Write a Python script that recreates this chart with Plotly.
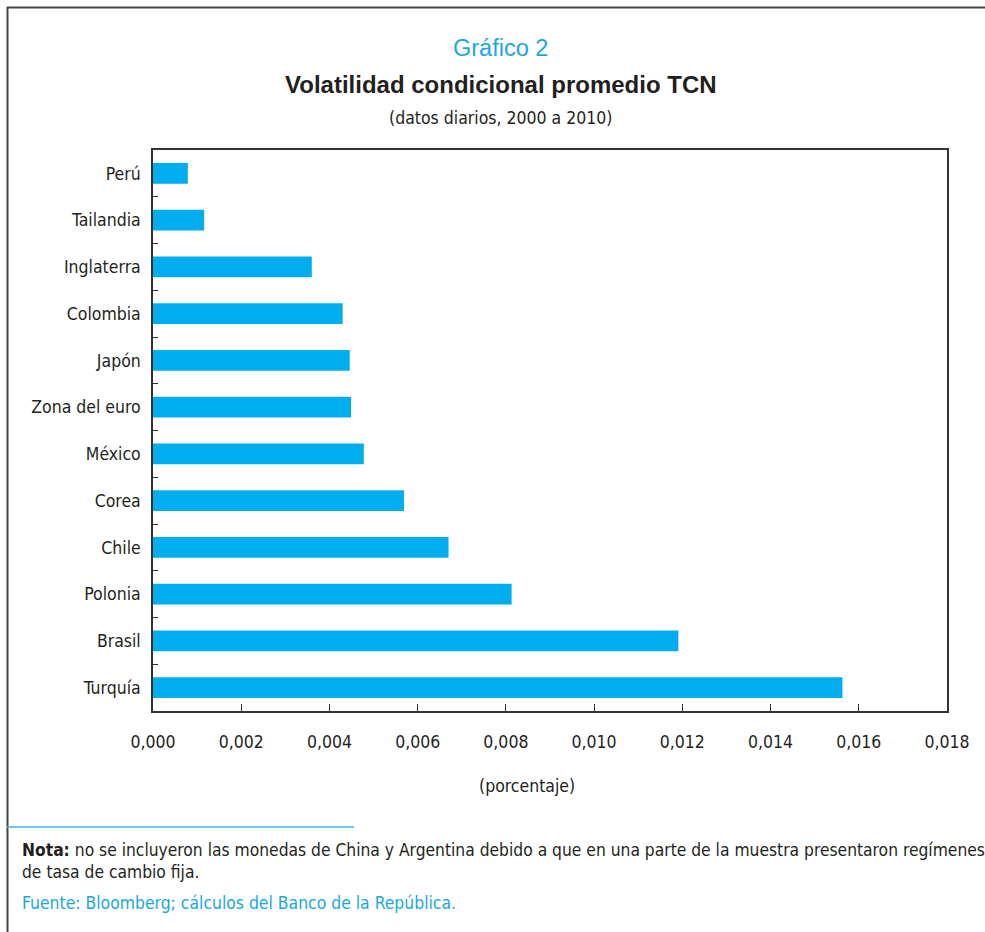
import plotly.graph_objects as go

# ---- data (top to bottom as in the chart) ----
countries = ["Perú", "Tailandia", "Inglaterra", "Colombia", "Japón", "Zona del euro",
             "México", "Corea", "Chile", "Polonia", "Brasil", "Turquía"]
volatility = [0.00079, 0.00116, 0.00360, 0.00430, 0.00446, 0.00449,
              0.00478, 0.00569, 0.00670, 0.00813, 0.01191, 0.01563]
x_ticks = [0.000, 0.002, 0.004, 0.006, 0.008, 0.010, 0.012, 0.014, 0.016, 0.018]

W, H = 985, 932
L, R, T, B = 153, 947, 150, 711  # plot area in pixels

def px(x):
    return (x - L) / (R - L)

def py(y):
    return (B - y) / (B - T)

COND = "Liberation Sans Narrow, DejaVu Sans Condensed, Arial Narrow, sans-serif"
REG = "Liberation Sans, Arial, Helvetica, sans-serif"
TXT = "#231f20"
BLUE = "#00aeef"
BLUE_TXT = "#1aa7e0"

fig = go.Figure(go.Bar(
    x=volatility, y=countries, orientation="h",
    marker=dict(color=BLUE, line=dict(width=0)),
    width=0.44,
))

fig.update_layout(
    width=W, height=H,
    margin=dict(l=L, r=W - R, t=T, b=H - B),
    paper_bgcolor="white", plot_bgcolor="white",
    separators=",.",
    showlegend=False,
    font=dict(family=COND, size=17, color=TXT),
    xaxis=dict(range=[0, 0.018], tickvals=x_ticks, tickformat=".3f",
               ticks="inside", ticklen=7, tickwidth=1.2, tickcolor="#333",
               showline=True, linecolor="#333", linewidth=1.5, mirror=True,
               showgrid=False, zeroline=False, ticklabelstandoff=14,
               tickfont=dict(family=COND, size=17.5, color=TXT)),
    yaxis=dict(autorange="reversed", ticks="inside", tickson="boundaries",
               ticklen=5, tickwidth=1.2, tickcolor="#333",
               showline=True, linecolor="#333", linewidth=1.5, mirror=True,
               showgrid=False, zeroline=False, ticklabelstandoff=7,
               tickfont=dict(family=COND, size=17.5, color=TXT)),
)

ann = [
    dict(text="Gráfico 2", x=px(500), y=py(48), font=dict(family=REG, size=23.5, color=BLUE_TXT)),
    dict(text="<b>Volatilidad condicional promedio TCN</b>", x=px(501), y=py(85),
         font=dict(family=REG, size=24, color=TXT)),
    dict(text="(datos diarios, 2000 a 2010)", x=px(500), y=py(118),
         font=dict(family=COND, size=17.5, color=TXT)),
    dict(text="(porcentaje)", x=px(527), y=py(786), font=dict(family=COND, size=17.5, color=TXT)),
]
for a in ann:
    fig.add_annotation(xref="paper", yref="paper", showarrow=False,
                       xanchor="center", yanchor="middle", **a)

fig.add_annotation(xref="paper", yref="paper", showarrow=False,
                   xanchor="left", yanchor="middle", align="left",
                   x=px(20), y=py(861),
                   text="<b>Nota:</b> no se incluyeron las monedas de China y Argentina debido a que en una parte de la muestra presentaron regímenes<br>de tasa de cambio fija.",
                   font=dict(family=COND, size=17.3, color=TXT))
fig.add_annotation(xref="paper", yref="paper", showarrow=False,
                   xanchor="left", yanchor="middle",
                   x=px(20), y=py(903),
                   text="Fuente: Bloomberg; cálculos del Banco de la República.",
                   font=dict(family=COND, size=17.4, color=BLUE_TXT))

# frame and separator
fig.add_shape(type="line", xref="paper", yref="paper", x0=px(7), x1=px(985), y0=py(7.5), y1=py(7.5),
              line=dict(color="#444", width=2))
fig.add_shape(type="line", xref="paper", yref="paper", x0=px(7.5), x1=px(7.5), y0=py(7), y1=py(932),
              line=dict(color="#444", width=2))
fig.add_shape(type="line", xref="paper", yref="paper", x0=px(7), x1=px(354), y0=py(827), y1=py(827),
              line=dict(color="#3bb4e5", width=1.5))

fig.write_html("out.html", config={"displayModeBar": False},
               post_script="document.body.style.margin='0';")
